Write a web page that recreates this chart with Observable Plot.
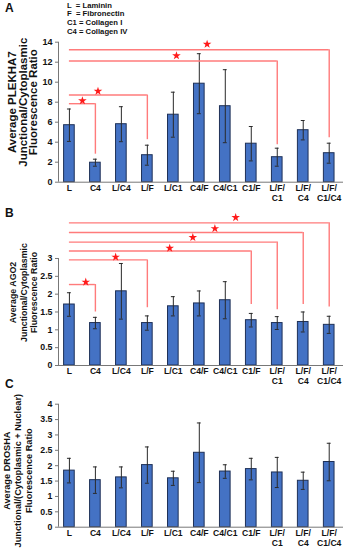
<!DOCTYPE html>
<html><head><meta charset="utf-8">
<script src="https://cdn.jsdelivr.net/npm/d3@7"></script>
<script src="https://cdn.jsdelivr.net/npm/@observablehq/plot@0.6"></script>
<style>
body{margin:0;background:#fff;}
#wrap{position:relative;width:348px;height:550px;overflow:hidden;font-family:"Liberation Sans",Arial,sans-serif;font-weight:bold;color:#111;}
.panel{position:absolute;left:0;}
.letter{position:absolute;left:5px;font-size:12px;line-height:12px;}
.legend{position:absolute;left:67px;top:1.5px;font-size:7.7px;line-height:8.7px;white-space:pre;}
</style></head><body><div id="wrap"></div>
<script>
// ---- data ----
const categories = ["L","C4","L/C4","L/F","L/C1","C4/F","C4/C1","C1/F","L/F/\nC1","L/F/\nC4","L/F/\nC1/C4"];
const legendLines = ["L  = Laminin","F  = Fibronectin","C1 = Collagen I","C4 = Collagen IV"];

const plekha7Mean = [5.7,1.95,5.8,2.7,6.75,9.85,7.6,3.85,2.5,5.2,2.9];
const plekha7Err  = [1.62,0.35,1.75,1.0,2.25,3.0,3.65,1.72,0.9,0.97,1.0];
const ago2Mean    = [1.71,1.19,2.08,1.19,1.66,1.74,1.83,1.27,1.19,1.22,1.14];
const ago2Err     = [0.33,0.16,0.78,0.2,0.27,0.35,0.52,0.19,0.18,0.28,0.24];
const droshaMean  = [1.84,1.53,1.62,2.02,1.59,2.42,1.81,1.89,1.78,1.51,2.12];
const droshaErr   = [0.4,0.43,0.34,0.59,0.23,0.97,0.22,0.35,0.49,0.28,0.61];

// significance brackets (from L, index 0, to target)
const sigFrom = 0;
const plekha7SigTarget = [1,3,8,10];
const plekha7SigLevel  = [7.85,8.72,12.12,13.25];
const plekha7SigDrop   = [2.8,4.25,3.75,4.45];
const plekha7StarX     = [0.5,1.1,4.12,5.3];
const plekha7StarY     = [8.15,9.1,12.65,13.8];

const ago2SigTarget = [1,3,7,8,9,10];
const ago2SigLevel  = [2.27,2.96,3.21,3.46,3.73,4.0];
const ago2SigDrop   = [1.5,1.62,1.71,1.56,1.71,1.64];
const ago2StarX     = [0.63,1.78,3.86,4.75,5.6,6.4];
const ago2StarY     = [2.34,3.04,3.29,3.59,3.84,4.15];

const plekha7Ticks = [0,2,4,6,8,10,12,14];
const ago2Ticks = [0,0.5,1,1.5,2,2.5,3];
const droshaTicks = [0,0.5,1,1.5,2,2.5,3,3.5,4];

const titleA = "Average PLEKHA7\nJunctional/Cytoplasmic\nFluorescence Ratio";
const titleB = "Average AGO2\nJunctional/Cytoplasmic\nFluorescence Ratio";
const titleC = "Average DROSHA\nJunctional/(Cytoplasmic + Nuclear)\nFluorescence Ratio";

// ---- drawing ----
const xDomain = [-0.42, 10.55];
const idx = categories.map((_, i) => i);

function makeSig(target, level, drop, sx, sy) {
  if (!target) return [];
  return target.map((t, k) => ({from: sigFrom, target: t, level: level[k], drop: drop[k], sx: sx[k], sy: sy[k]}));
}

function panel(o) {
  const data = o.means.map((m, i) => ({i, mean: m, lo: m - o.errs[i], hi: m + o.errs[i]}));
  const sig = makeSig(o.sigTarget, o.sigLevel, o.sigDrop, o.starX, o.starY);
  return Plot.plot({
    width: 348, height: o.height,
    marginLeft: 58, marginRight: 5, marginTop: o.marginTop, marginBottom: o.marginBottom,
    style: {fontFamily: "'Liberation Sans', Arial, sans-serif", fontWeight: "bold", fontSize: o.tickFont + "px", color: "#111", background: "transparent", overflow: "visible"},
    x: {domain: xDomain, label: null},
    y: {domain: o.domain, label: null},
    marks: [
      Plot.rect(data, {x1: d => d.i - 0.205, x2: d => d.i + 0.205, y1: 0, y2: "mean", fill: "#4472c4", stroke: "#1f3158", strokeWidth: 1}),
      Plot.ruleX(data, {x: "i", y1: "lo", y2: "hi", stroke: "#2a2a2a", strokeWidth: 1}),
      Plot.ruleY(data, {y: "lo", x1: d => d.i - 0.075, x2: d => d.i + 0.075, stroke: "#2a2a2a", strokeWidth: 1}),
      Plot.ruleY(data, {y: "hi", x1: d => d.i - 0.075, x2: d => d.i + 0.075, stroke: "#2a2a2a", strokeWidth: 1}),
      Plot.ruleY(sig, {y: "level", x1: "from", x2: "target", stroke: "#ff7b7b", strokeWidth: 1.4}),
      Plot.ruleX(sig, {x: "target", y1: "drop", y2: "level", stroke: "#ff7b7b", strokeWidth: 1.4}),
      Plot.dot(sig, {x: "sx", y: "sy", symbol: "star", fill: "#ff1a1a", r: 2.7}),
      Plot.ruleY([0], {stroke: "#777", strokeWidth: 1}),
      Plot.ruleX([xDomain[0]], {y1: 0, y2: o.axisTop, stroke: "#777", strokeWidth: 1}),
      Plot.axisY({ticks: o.ticks, tickFormat: d => String(d), tickSize: 3, tickPadding: 3, label: null, stroke: "#777"}),
      Plot.axisX({ticks: idx, tickFormat: i => categories[i], tickSize: 0, tickPadding: 2, label: null, lineHeight: 1.12, fontSize: o.xFont}),
      Plot.text([o.title], {text: d => d, frameAnchor: "left", rotate: -90, textAnchor: "middle", lineAnchor: "middle",
        lineHeight: o.titleLH, fontSize: o.titleSize, fontWeight: "bold", dx: o.titleDx, dy: o.titleDy, fill: "#111"})
    ]
  });
}

const wrap = document.getElementById("wrap");
function place(el, top) { el.classList.add("panel"); el.style.top = top + "px"; wrap.appendChild(el); }

place(panel({means: plekha7Mean, errs: plekha7Err, sigTarget: plekha7SigTarget, sigLevel: plekha7SigLevel, sigDrop: plekha7SigDrop, starX: plekha7StarX, starY: plekha7StarY,
  domain: [0, 14], ticks: plekha7Ticks, axisTop: 14, height: 200, marginTop: 41.7, marginBottom: 18.3,
  title: titleA, titleSize: 11.5, titleLH: 0.93, titleDx: -35.3, titleDy: -10, tickFont: 9, xFont: 8.6}), 0);

place(panel({means: ago2Mean, errs: ago2Err, sigTarget: ago2SigTarget, sigLevel: ago2SigLevel, sigDrop: ago2SigDrop, starX: ago2StarX, starY: ago2StarY,
  domain: [0, 4.626], ticks: ago2Ticks, axisTop: 3, height: 190, marginTop: 0, marginBottom: 25,
  title: titleB, titleSize: 8.8, titleLH: 1.2, titleDx: -35, titleDy: 9.5, tickFont: 8.8, xFont: 8.6}), 200);

place(panel({means: droshaMean, errs: droshaErr,
  domain: [0, 4], ticks: droshaTicks, axisTop: 4, height: 160, marginTop: 13.7, marginBottom: 23.3,
  title: titleC, titleSize: 9.2, titleLH: 1.2, titleDx: -41, titleDy: 5, tickFont: 8.8, xFont: 8.6}), 390);

function addDiv(cls, text, top) {
  const d = document.createElement("div");
  d.className = cls; d.textContent = text;
  if (top != null) d.style.top = top + "px";
  wrap.appendChild(d);
}
addDiv("letter", "A", 2);
addDiv("letter", "B", 206.5);
addDiv("letter", "C", 377.5);
addDiv("legend", legendLines.join("\n"));
</script>
</body></html>
